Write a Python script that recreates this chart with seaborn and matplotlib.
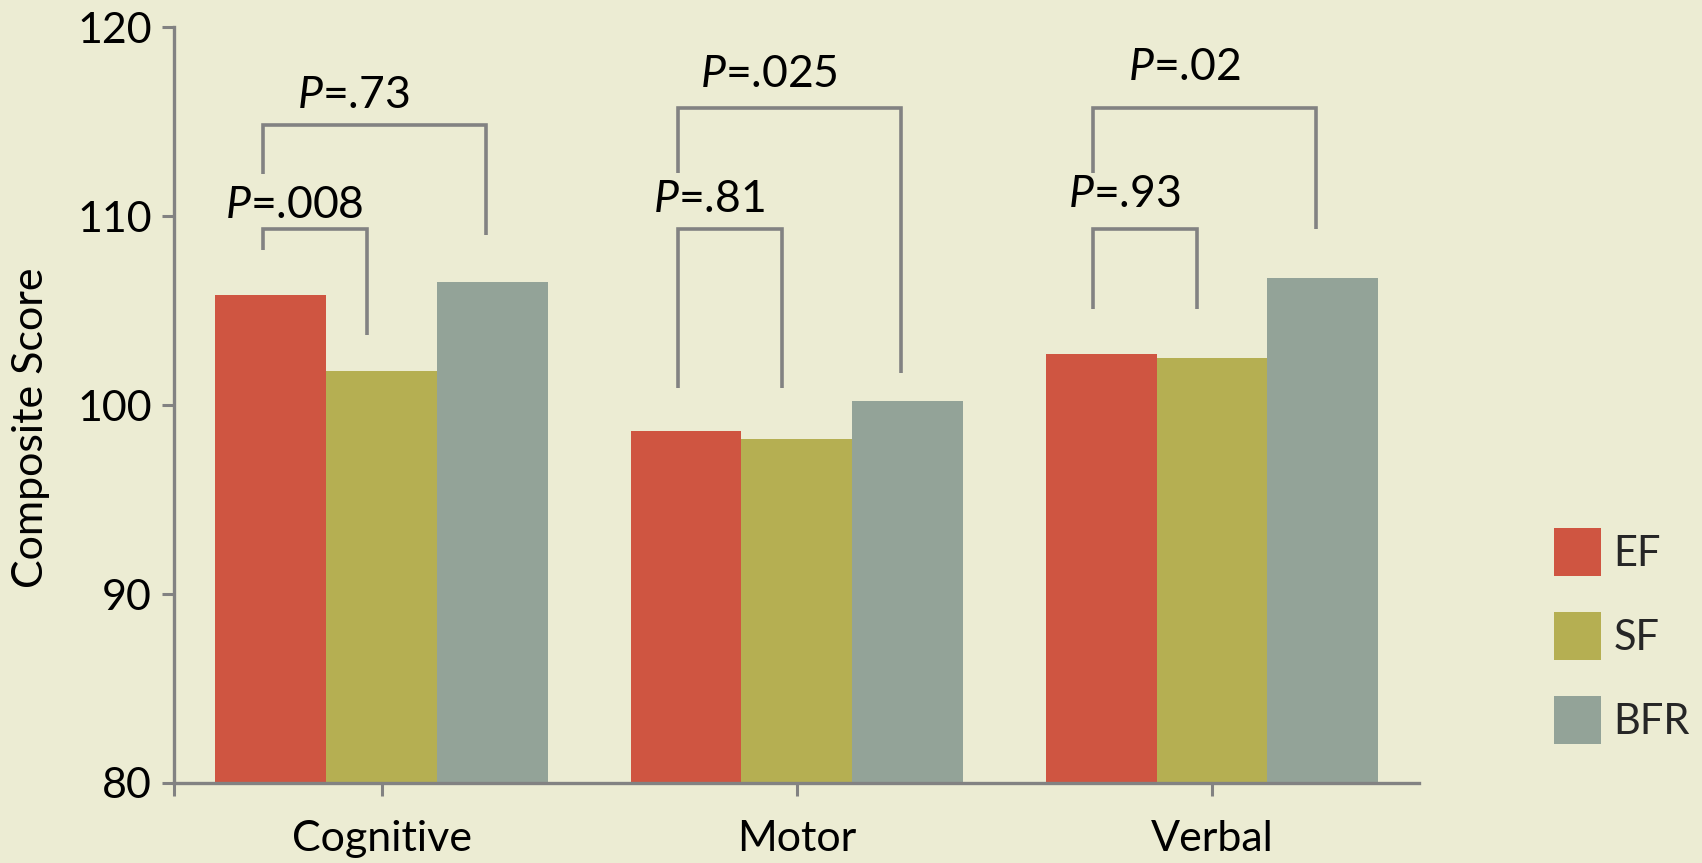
import matplotlib
matplotlib.use("Agg")
import matplotlib.pyplot as plt
import pandas as pd
import seaborn as sns
from matplotlib.patches import Patch

# Composite scores per domain and feeding group
categories = ["Cognitive", "Motor", "Verbal"]
groups = ["EF", "SF", "BFR"]
ef_scores = [105.8, 98.6, 102.7]
sf_scores = [101.8, 98.2, 102.5]
bfr_scores = [106.5, 100.2, 106.7]

# Pairwise comparisons: EF vs SF (inner) and EF vs BFR (outer)
p_ef_sf = [".008", ".81", ".93"]
p_ef_bfr = [".73", ".025", ".02"]

# Bracket heights in score units
inner_top = [109.3, 109.3, 109.3]
inner_left_end = [108.2, 100.9, 105.1]
inner_right_end = [103.7, 100.9, 105.1]
outer_top = [114.8, 115.7, 115.7]
outer_left_end = [112.2, 112.3, 112.3]
outer_right_end = [109.0, 101.7, 109.3]
inner_label_y = [109.9, 110.2, 110.5]
outer_label_y = [115.7, 116.8, 117.2]

colors = {"EF": "#CF5541", "SF": "#B5AF52", "BFR": "#93A398"}
bg = "#ECECD3"
line_grey = "#828282"

df = pd.DataFrame({
    "domain": categories * 3,
    "group": ["EF"] * 3 + ["SF"] * 3 + ["BFR"] * 3,
    "score": ef_scores + sf_scores + bfr_scores,
})

sns.set_theme(style="white")
plt.rcParams["font.family"] = ["Lato", "DejaVu Sans"]
plt.rcParams["mathtext.fontset"] = "custom"
plt.rcParams["mathtext.it"] = "Lato:italic"
plt.rcParams["mathtext.rm"] = "Lato"

fig = plt.figure(figsize=(17.02, 8.63), dpi=100, facecolor=bg)
ax = fig.add_axes([0.1022, 0.0927, 0.7318, 0.876])
ax.set_facecolor(bg)

sns.barplot(data=df, x="domain", y="score", hue="group", order=categories,
            hue_order=groups, palette=colors, saturation=1, width=0.8,
            linewidth=0, ax=ax, legend=False, errorbar=None)

ax.set_ylim(80, 120)
ax.set_xlim(-0.5, 2.5)
ax.set_yticks([80, 90, 100, 110, 120])
ax.set_xticks([-0.5], minor=True)
ax.set_xlabel("")
ax.set_ylabel("Composite Score", fontsize=31, color="black", va="center")
ax.yaxis.set_label_coords(-0.115, 0.47)

for side in ("top", "right"):
    ax.spines[side].set_visible(False)
for side in ("left", "bottom"):
    ax.spines[side].set_color(line_grey)
    ax.spines[side].set_linewidth(2.4)

ax.tick_params(axis="both", which="both", direction="out", length=9,
               width=2.2, color=line_grey, labelsize=31, labelcolor="black",
               bottom=True, left=True)
ax.tick_params(axis="y", pad=7)
ax.tick_params(axis="x", pad=18)

# Significance brackets
bw = 0.8 / 3
for i in range(len(categories)):
    x_ef = i - bw - 0.02
    x_sf = i - 0.035
    x_bfr = i + bw - 0.015
    lw = 2.6
    ax.plot([x_ef, x_ef, x_sf, x_sf],
            [inner_left_end[i], inner_top[i], inner_top[i], inner_right_end[i]],
            color=line_grey, lw=lw, solid_joinstyle="miter", solid_capstyle="butt")
    ax.plot([x_ef, x_ef, x_bfr, x_bfr],
            [outer_left_end[i], outer_top[i], outer_top[i], outer_right_end[i]],
            color=line_grey, lw=lw, solid_joinstyle="miter", solid_capstyle="butt")
    ax.text((x_ef + x_sf) / 2 - 0.05, inner_label_y[i], r"$\it{P}$=" + p_ef_sf[i],
            ha="center", va="baseline", fontsize=32, color="black")
    ax.text((x_ef + x_bfr) / 2 - 0.05, outer_label_y[i], r"$\it{P}$=" + p_ef_bfr[i],
            ha="center", va="baseline", fontsize=32, color="black")

handles = [Patch(facecolor=colors[g], edgecolor="none", label=g) for g in groups]
fig.legend(handles=handles, loc="upper left", bbox_to_anchor=(0.913, 0.388),
           frameon=False, fontsize=30, handlelength=1.13, handleheight=1.4,
           handletextpad=0.3, labelspacing=0.86, borderpad=0, borderaxespad=0)

fig.savefig("out.png", dpi=100, facecolor=bg)
